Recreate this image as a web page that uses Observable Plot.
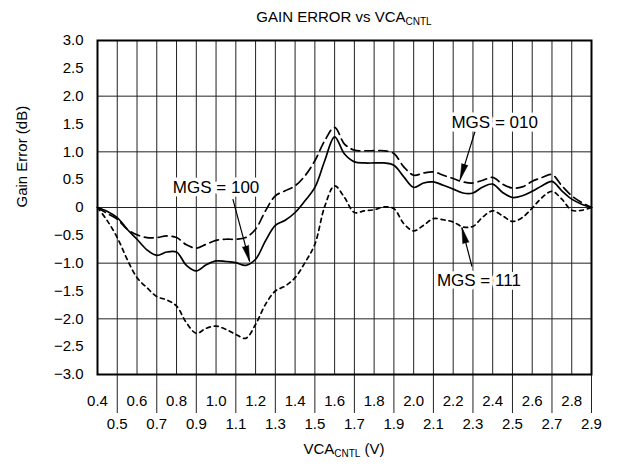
<!DOCTYPE html>
<html>
<head>
<meta charset="utf-8">
<script src="https://cdn.jsdelivr.net/npm/d3@7"></script>
<script src="https://cdn.jsdelivr.net/npm/@observablehq/plot@0.6"></script>
<style>
  body { margin: 0; background: #fff; font-family: "Liberation Sans", Arial, sans-serif; }
  #wrap { position: relative; width: 619px; height: 468px; }
  .lbl { position: absolute; left: 97px; width: 494px; text-align: center; color: #000; white-space: nowrap; }
  #title { top: 8px; font-size: 15px; line-height: 18px; }
  #xlabel { top: 439px; font-size: 15px; line-height: 20px; }
  sub { font-size: 10px; vertical-align: -3px; line-height: 0; }
  #chart { position: absolute; left: 0; top: 30px; }
</style>
</head>
<body>
<div id="wrap">
  <div id="title" class="lbl">GAIN ERROR vs VCA<sub>CNTL</sub></div>
  <div id="chart"></div>
  <div id="xlabel" class="lbl">VCA<sub>CNTL</sub> (V)</div>
</div>
<script>
// VCA_CNTL (V)
const vca = [0.40,0.45,0.50,0.55,0.60,0.65,0.70,0.75,0.80,0.85,0.90,0.95,1.00,1.05,1.10,1.15,1.20,1.25,1.30,1.35,1.40,1.45,1.50,1.55,1.60,1.65,1.70,1.75,1.80,1.85,1.90,1.95,2.00,2.05,2.10,2.15,2.20,2.25,2.30,2.35,2.40,2.45,2.50,2.55,2.60,2.65,2.70,2.75,2.80,2.85,2.90];
// Gain error (dB)
const mgs100 = [0.00,-0.07,-0.18,-0.39,-0.57,-0.76,-0.86,-0.80,-0.80,-1.04,-1.14,-1.03,-0.96,-0.97,-0.99,-1.04,-0.93,-0.60,-0.32,-0.23,-0.09,0.12,0.36,0.84,1.27,0.96,0.82,0.80,0.80,0.80,0.76,0.55,0.36,0.44,0.46,0.40,0.33,0.26,0.26,0.37,0.42,0.27,0.18,0.21,0.29,0.39,0.47,0.30,0.15,0.06,0.00];
const mgs010 = [0.00,-0.11,-0.21,-0.39,-0.49,-0.54,-0.54,-0.51,-0.54,-0.67,-0.73,-0.66,-0.59,-0.57,-0.57,-0.54,-0.39,-0.06,0.21,0.30,0.39,0.57,0.84,1.20,1.44,1.14,1.03,1.02,1.02,1.02,0.97,0.73,0.58,0.62,0.64,0.58,0.52,0.46,0.44,0.49,0.54,0.42,0.35,0.37,0.47,0.54,0.59,0.39,0.21,0.09,0.00];
const mgs111 = [0.00,-0.24,-0.54,-0.93,-1.26,-1.44,-1.60,-1.66,-1.77,-2.07,-2.26,-2.17,-2.13,-2.19,-2.28,-2.35,-2.10,-1.74,-1.50,-1.41,-1.26,-0.99,-0.66,0.02,0.39,0.18,-0.09,-0.06,-0.04,0.01,-0.02,-0.29,-0.42,-0.32,-0.20,-0.22,-0.26,-0.35,-0.34,-0.17,-0.06,-0.15,-0.25,-0.18,-0.01,0.18,0.29,0.15,-0.05,-0.05,0.00];

// ticks
const xTicksTop = [0.4,0.6,0.8,1.0,1.2,1.4,1.6,1.8,2.0,2.2,2.4,2.6,2.8];
const xTicksBottom = [0.5,0.7,0.9,1.1,1.3,1.5,1.7,1.9,2.1,2.3,2.5,2.7,2.9];
const xGrid = [0.5,0.6,0.7,0.8,0.9,1.0,1.1,1.2,1.3,1.4,1.5,1.6,1.7,1.8,1.9,2.0,2.1,2.2,2.3,2.4,2.5,2.6,2.7,2.8];
const yTicks = [-3.0,-2.5,-2.0,-1.5,-1.0,-0.5,0,0.5,1.0,1.5,2.0,2.5,3.0];
const yGrid = [-2,-1,0,1,2];

// annotations
const noteText = ["MGS = 100","MGS = 010","MGS = 111"];
const noteX = [1.0, 2.41, 2.33];
const noteY = [0.36, 1.52, -1.32];
const arrowX1 = [1.085, 2.31, 2.295];
const arrowY1 = [0.15, 1.36, -1.06];
const arrowX2 = [1.17, 2.235, 2.244];
const arrowY2 = [-0.97, 0.50, -0.36];

const series = [
  {name: "MGS = 100", values: mgs100, dash: null},
  {name: "MGS = 010", values: mgs010, dash: "9,5"},
  {name: "MGS = 111", values: mgs111, dash: "4,4"}
];

const W = 619, H = 408, ML = 97, MR = 28, MT = 10, MB = 64;
const xDomain = [0.4, 2.9], yDomain = [-3, 3];
// scales only used to orient the arrowheads along their shafts
const sx = d3.scaleLinear(xDomain, [ML, W - MR]);
const sy = d3.scaleLinear(yDomain, [H - MB, MT]);

const fmt = d => d === 0 ? "0" : d3.format(".1f")(d);
const notes = noteText.map((t, i) => ({t, x: noteX[i], y: noteY[i]}));
const arrows = arrowX1.map((x1, i) => {
  const x2 = arrowX2[i], y1 = arrowY1[i], y2 = arrowY2[i];
  const dx = sx(x2) - sx(x1), dy = sy(y2) - sy(y1);
  return {x1, y1, x2, y2, rot: Math.atan2(dx, -dy) * 180 / Math.PI};
});

const lineMarks = series.map(s => Plot.line(vca.map((x, i) => ({x, y: s.values[i]})), {
  x: "x", y: "y", stroke: "#000", strokeWidth: 1.7, curve: "catmull-rom",
  strokeDasharray: s.dash
}));

const chart = Plot.plot({
  width: W,
  height: H,
  marginLeft: ML,
  marginRight: MR,
  marginTop: MT,
  marginBottom: MB,
  style: {fontFamily: "'Liberation Sans', Arial, sans-serif", fontSize: "15px", color: "#000", background: "#fff"},
  x: {domain: xDomain},
  y: {domain: yDomain},
  marks: [
    Plot.ruleX(xGrid, {stroke: "#222", strokeWidth: 1}),
    Plot.ruleY(yGrid, {stroke: "#222", strokeWidth: 1}),
    Plot.axisX(xTicksTop, {tickSize: 0, tickPadding: 21, tickFormat: d3.format(".1f"), label: null, fontSize: 15}),
    Plot.axisX(xTicksBottom, {tickSize: 39, tickPadding: 5, tickFormat: d3.format(".1f"), label: null, fontSize: 15, stroke: "#222"}),
    Plot.axisY(yTicks, {tickSize: 0, tickPadding: 14, tickFormat: fmt, label: null, fontSize: 15}),
    Plot.text(["Gain Error (dB)"], {frameAnchor: "left", rotate: -90, dx: -75, fontSize: 15}),
    ...lineMarks,
    Plot.link(arrows, {x1: "x1", y1: "y1", x2: "x2", y2: "y2", stroke: "#000", strokeWidth: 1.2}),
    Plot.vector(arrows, {x: "x2", y: "y2", rotate: "rot", length: 16, r: 3.2, shape: "spike", anchor: "end", fill: "#000", stroke: "#000", strokeWidth: 0.5}),
    Plot.text(notes, {x: "x", y: "y", text: "t", fontSize: 17, fill: "#000", stroke: "#fff", strokeWidth: 7}),
    Plot.frame({stroke: "#000", strokeWidth: 2})
  ]
});
document.getElementById("chart").appendChild(chart);
</script>
</body>
</html>
